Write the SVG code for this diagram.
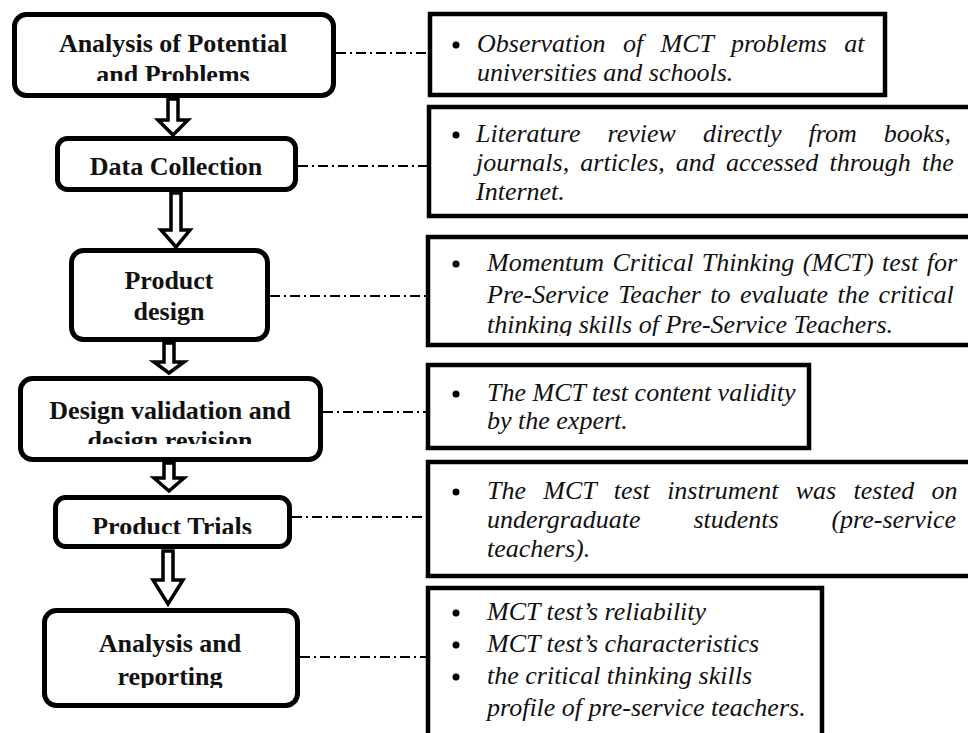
<svg xmlns="http://www.w3.org/2000/svg" width="968" height="733" viewBox="0 0 968 733">
<style>
.lbox{fill:#fff;stroke:#000;stroke-width:5}
.rbox{fill:#fff;stroke:#000;stroke-width:4.5}
.lt{font-family:"Liberation Serif","Times New Roman",serif;font-weight:bold;font-size:26px;text-anchor:middle;fill:#111}
.rt{font-family:"Liberation Serif","Times New Roman",serif;font-style:italic;font-size:26px;fill:#111}
.arr{fill:#fff;stroke:#000;stroke-width:3.5;stroke-linejoin:miter}
.dd{fill:none;stroke:#000;stroke-width:2;stroke-dasharray:10 4 2 4}
.bul{fill:#000}
</style>
<defs>
<clipPath id="c1"><rect x="0" y="0" width="400" height="81"/></clipPath>
<clipPath id="c4"><rect x="0" y="380" width="400" height="64"/></clipPath>
<clipPath id="c5"><rect x="0" y="500" width="400" height="34"/></clipPath>
<clipPath id="c6"><rect x="0" y="612" width="400" height="76"/></clipPath>
<clipPath id="cr3"><rect x="430" y="240" width="540" height="96"/></clipPath>
</defs>
<rect width="968" height="733" fill="#fff"/>
<g id="connectors">
<line class="dd" x1="336" y1="53" x2="428" y2="53"/>
<line class="dd" x1="298" y1="166" x2="427" y2="166"/>
<line class="dd" x1="270" y1="296" x2="426" y2="296"/>
<line class="dd" x1="323" y1="412" x2="426" y2="412"/>
<line class="dd" x1="292" y1="517" x2="426" y2="517"/>
<line class="dd" x1="300" y1="657" x2="426" y2="657"/>
<polygon class="arr" points="168,99 178,99 178,120 188,120 173,135 158,120 168,120"/>
<polygon class="arr" points="171,193 181,193 181,230 190,230 176,247 161,230 171,230"/>
<polygon class="arr" points="164,343 174,343 174,362 184,362 169,373 154,362 164,362"/>
<polygon class="arr" points="164,463 174,463 174,478 184,478 169,491 154,478 164,478"/>
<polygon class="arr" points="163,551 173,551 173,580 183,580 168,604 153,580 163,580"/>
</g>
<g id="n1">
<rect class="lbox" x="14.5" y="14.5" width="319" height="81" rx="12"/>
<g clip-path="url(#c1)"><text class="lt" x="173" y="52">Analysis of Potential</text><text class="lt" x="173" y="83">and Problems</text></g>
</g>
<g id="n2">
<rect class="lbox" x="57.5" y="138.5" width="238" height="51" rx="10"/>
<text class="lt" x="176" y="175">Data Collection</text>
</g>
<g id="n3">
<rect class="lbox" x="71.5" y="250.5" width="196" height="89" rx="12"/>
<text class="lt" x="169" y="289">Product</text><text class="lt" x="169" y="320">design</text>
</g>
<g id="n4">
<rect class="lbox" x="20.5" y="378.5" width="300" height="81" rx="12"/>
<g clip-path="url(#c4)"><text class="lt" x="170" y="419">Design validation and</text><text class="lt" x="170" y="449">design revision</text></g>
</g>
<g id="n5">
<rect class="lbox" x="55.5" y="497.5" width="234" height="49" rx="10"/>
<g clip-path="url(#c5)"><text class="lt" x="172" y="535">Product Trials</text></g>
</g>
<g id="n6">
<rect class="lbox" x="44.5" y="610.5" width="253" height="95" rx="12"/>
<g clip-path="url(#c6)"><text class="lt" x="170" y="652">Analysis and</text><text class="lt" x="170" y="685">reporting</text></g>
</g>
<g id="r1">
<rect class="rbox" x="430" y="14" width="455" height="81"/>
<circle class="bul" cx="456" cy="45" r="3.5"/>
<text class="rt" x="477" y="52" word-spacing="10.9">Observation of MCT problems at</text>
<text class="rt" x="477" y="81">universities and schools.</text>
</g>
<g id="r2">
<rect class="rbox" x="429" y="107" width="560" height="109"/>
<circle class="bul" cx="456" cy="135" r="3.5"/>
<text class="rt" x="476" y="142" word-spacing="20.6">Literature review directly from books,</text>
<text class="rt" x="476" y="171" word-spacing="4.6">journals, articles, and accessed through the</text>
<text class="rt" x="476" y="200">Internet.</text>
</g>
<g id="r3">
<rect class="rbox" x="428" y="237" width="560" height="108"/>
<circle class="bul" cx="456" cy="264" r="3.5"/>
<text class="rt" x="487" y="271" word-spacing="2">Momentum Critical Thinking (MCT) test for</text>
<text class="rt" x="487" y="303" word-spacing="2.9">Pre-Service Teacher to evaluate the critical</text>
<g clip-path="url(#cr3)"><text class="rt" x="487" y="333">thinking skills of Pre-Service Teachers.</text></g>
</g>
<g id="r4">
<rect class="rbox" x="428" y="365" width="381" height="83"/>
<circle class="bul" cx="456" cy="394" r="3.5"/>
<text class="rt" x="487" y="401">The MCT test content validity</text>
<text class="rt" x="487" y="429">by the expert.</text>
</g>
<g id="r5">
<rect class="rbox" x="428" y="462" width="560" height="114"/>
<circle class="bul" cx="456" cy="492" r="3.5"/>
<text class="rt" x="487" y="499" word-spacing="10.85">The MCT test instrument was tested on</text>
<text class="rt" x="487" y="528" word-spacing="46.3">undergraduate students (pre-service</text>
<text class="rt" x="487" y="557">teachers).</text>
</g>
<g id="r6">
<rect class="rbox" x="428" y="588" width="394" height="170"/>
<circle class="bul" cx="456" cy="613" r="3.5"/>
<circle class="bul" cx="456" cy="645" r="3.5"/>
<circle class="bul" cx="456" cy="677" r="3.5"/>
<text class="rt" x="487" y="620">MCT test’s reliability</text>
<text class="rt" x="487" y="652">MCT test’s characteristics</text>
<text class="rt" x="487" y="684">the critical thinking skills</text>
<text class="rt" x="487" y="716">profile of pre-service teachers.</text>
</g>
</svg>
